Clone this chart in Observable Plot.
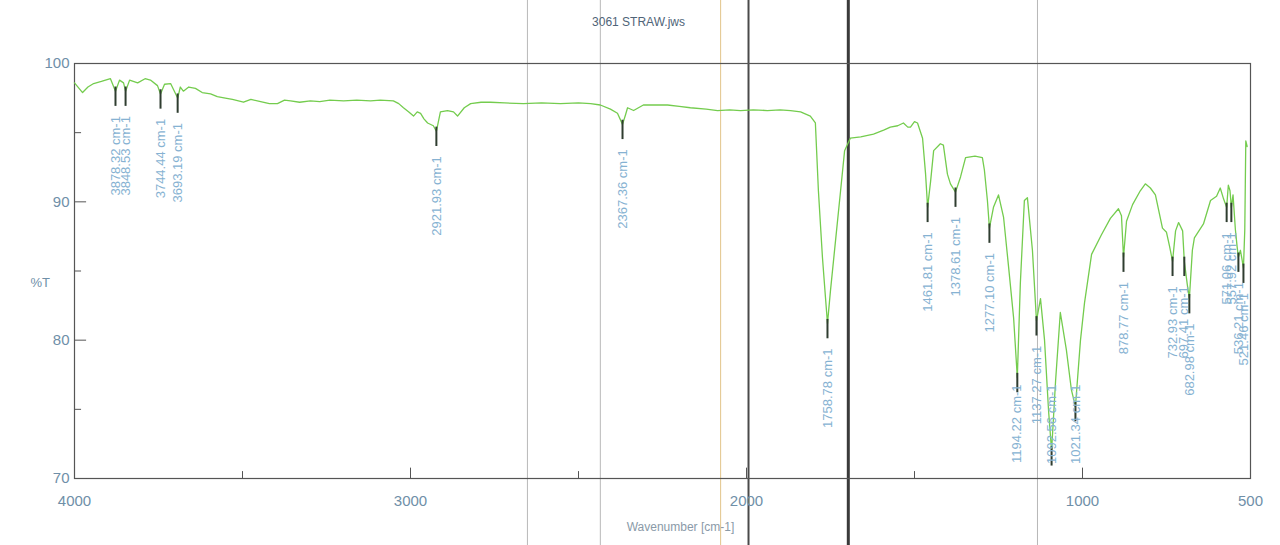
<!DOCTYPE html>
<html><head><meta charset="utf-8">
<script src="https://cdn.jsdelivr.net/npm/d3@7"></script>
<script src="https://cdn.jsdelivr.net/npm/@observablehq/plot@0.6"></script>
<style>html,body{margin:0;padding:0;background:#fff;}#chart{width:1280px;height:545px;overflow:hidden}</style>
</head><body><div id="chart"></div>
<script>
const title = "3061 STRAW.jws";
const xLabel = "Wavenumber [cm-1]";
const yLabel = "%T";

const wavenumber = [4000,3976,3960,3943,3920,3893,3878,3866,3854,3848,3836,3812,3790,3774,3753,3744,3732,3714,3693,3685,3676,3660,3640,3620,3595,3575,3551,3530,3497,3475,3446,3420,3396,3375,3357,3330,3298,3270,3240,3199,3160,3119,3090,3051,3035,3021,3005,2991,2980,2970,2960,2949,2932,2923,2911,2890,2872,2860,2840,2821,2790,2762,2720,2664,2610,2554,2500,2464,2435,2405,2384,2369,2360,2354,2336,2307,2270,2235,2200,2167,2120,2086,2050,2018,1980,1938,1900,1869,1839,1810,1795,1786,1774,1765,1759,1750,1735,1720,1708,1691,1660,1622,1590,1572,1550,1533,1520,1512,1500,1491,1476,1467,1461,1452,1443,1423,1414,1402,1393,1378,1363,1348,1320,1298,1292,1283,1277,1265,1250,1235,1220,1205,1194,1185,1173,1164,1149,1137,1125,1113,1101,1092,1080,1066,1048,1033,1021,1006,994,973,944,917,893,884,878,869,851,828,813,798,783,762,750,741,732,723,714,702,697,688,682,673,667,640,619,601,590,580,571,566,561,557,552,545,540,536,530,525,521,517,514,510];
const transmittance = [98.6,97.9,98.3,98.55,98.7,98.9,98.0,98.8,98.6,98.0,98.8,98.6,98.9,98.8,98.4,97.8,98.5,98.55,97.5,98.3,98.0,98.3,98.2,97.9,97.8,97.6,97.5,97.4,97.2,97.4,97.25,97.1,97.1,97.35,97.3,97.2,97.3,97.25,97.35,97.3,97.35,97.3,97.35,97.3,97.1,96.8,96.5,96.2,96.5,96.4,96.0,95.7,95.5,95.1,96.5,96.6,96.5,96.2,96.8,97.1,97.2,97.2,97.15,97.1,97.15,97.1,97.15,97.1,97.0,96.7,96.4,95.6,96.3,96.8,96.6,97.0,97.0,97.0,96.9,96.8,96.7,96.6,96.65,96.6,96.65,96.6,96.65,96.6,96.5,96.2,95.7,90.8,86.0,83.1,81.2,83.6,87.2,90.8,93.7,94.6,94.7,94.9,95.2,95.4,95.5,95.7,95.4,95.4,95.8,95.7,94.6,92.0,89.6,91.5,93.7,94.2,94.1,92.0,91.3,90.7,91.8,93.2,93.3,93.2,92.3,90.1,88.1,89.6,90.5,88.9,85.3,81.6,77.3,84.1,90.1,90.3,86.5,81.4,83.0,80.0,74.9,72.0,77.1,82.0,79.3,76.4,75.2,80.0,82.7,86.2,87.6,88.8,89.5,89.0,86.0,88.6,89.8,90.8,91.3,91.0,90.5,88.1,87.8,86.8,85.7,87.9,88.5,87.9,85.7,84.0,83.0,86.5,87.4,88.4,90.1,90.4,91.0,90.2,89.6,91.2,90.8,89.6,90.5,88.0,86.8,86.0,86.5,85.8,85.2,88.0,94.4,94.0];

const peakWavenumber = [3878,3848,3744,3693,2923,2369,1759,1461,1378,1277,1194,1137,1092,1021,878,732,697,682,571,557,536,521];
const peakTransmittance = [98.0,98.0,97.8,97.5,95.1,95.6,81.2,89.6,90.7,88.1,77.3,81.4,72.0,75.2,86.0,85.7,85.7,83.0,89.6,89.6,86.0,85.2];
const peakLabels = ["3878.32 cm-1","3848.53 cm-1","3744.44 cm-1","3693.19 cm-1","2921.93 cm-1","2367.36 cm-1","1758.78 cm-1","1461.81 cm-1","1378.61 cm-1","1277.10 cm-1","1194.22 cm-1","1137.27 cm-1","1092.56 cm-1","1021.34 cm-1","878.77 cm-1","732.93 cm-1","697.41 cm-1","682.98 cm-1","571.06 cm-1","557.92 cm-1","536.21 cm-1","521.46 cm-1"];

const xTickValues = [4000,3000,2000,1000,500];
const xMinorTicks = [3500,2500,1500];
const yTickValues = [70,80,90,100];
const yMinorTicks = [75,85,95];

// scanner artefact lines on the original page (wavenumber positions)
const scanLinesThin = [2652,2435,1134];
const scanLinesAmber = [2077];
const scanLinesDark = [1994];
const scanLinesHeavy = [1697];

const spectrum = wavenumber.map((w, i) => ({w, t: transmittance[i]}));
const peaks = peakWavenumber.map((w, i) => ({w, t: peakTransmittance[i], label: peakLabels[i]}));

const font = "'Liberation Sans', Arial, sans-serif";
const axisColor = "#6f8fa8";
// keep peak labels inside the frame: a label never starts below this %T level
const labelFloor = 76.8;

const chart = Plot.plot({
  width: 1280,
  height: 545,
  marginLeft: 74,
  marginRight: 30,
  marginTop: 63,
  marginBottom: 67,
  x: {type: "linear", domain: [4000, 500], axis: null},
  y: {type: "linear", domain: [70, 100], axis: null},
  style: {fontFamily: font, background: "#fff", overflow: "visible"},
  marks: [
    Plot.ruleX(scanLinesThin, {x: d => d, y1: 65, y2: 105, stroke: "#b8b8b8", strokeWidth: 1}),
    Plot.ruleX(scanLinesAmber, {x: d => d, y1: 65, y2: 105, stroke: "#e2c48a", strokeWidth: 1}),
    Plot.ruleX(scanLinesDark, {x: d => d, y1: 65, y2: 105, stroke: "#4a4a4a", strokeWidth: 2}),
    Plot.ruleX(scanLinesHeavy, {x: d => d, y1: 65, y2: 105, stroke: "#3a3a3a", strokeWidth: 3}),
    Plot.frame({stroke: "#555", strokeWidth: 1.2}),
    Plot.ruleY(yTickValues, {y: d => d, x1: 4000, x2: 3964, stroke: "#555"}),
    Plot.ruleY(yMinorTicks, {y: d => d, x1: 4000, x2: 3979, stroke: "#555"}),
    Plot.ruleX(xTickValues, {x: d => d, y1: 70, y2: 70.75, stroke: "#555"}),
    Plot.ruleX(xMinorTicks, {x: d => d, y1: 70, y2: 70.5, stroke: "#555"}),
    Plot.text(xTickValues, {x: d => d, text: d => String(d), frameAnchor: "bottom", dy: 27, fontSize: 15, fill: axisColor}),
    Plot.text(yTickValues, {y: d => d, text: d => String(d), frameAnchor: "left", dx: -5, textAnchor: "end", fontSize: 15, fill: axisColor}),
    Plot.text([yLabel], {frameAnchor: "left", dx: -44, dy: 12, fontSize: 13, fill: axisColor}),
    Plot.text([xLabel], {frameAnchor: "bottom", dy: 52, dx: 18, fontSize: 12, fill: "#8a9aa8"}),
    Plot.text([title], {frameAnchor: "top", dy: -46, dx: -24, fontSize: 12, fill: "#4f6478"}),
    Plot.line(spectrum, {x: "w", y: "t", stroke: "#74cc4e", strokeWidth: 1.3, curve: "linear"}),
    Plot.ruleX(peaks, {x: "w", y1: d => d.t + 0.3, y2: d => d.t - 1.1, stroke: "#2f3d30", strokeWidth: 2}),
    Plot.text(peaks, {x: "w", y: d => Math.max(d.t - 1.8, labelFloor), text: "label", rotate: -90, textAnchor: "end", fontSize: 13, fill: "#86b2d2"})
  ]
});
document.getElementById("chart").appendChild(chart);
</script>
</body></html>
